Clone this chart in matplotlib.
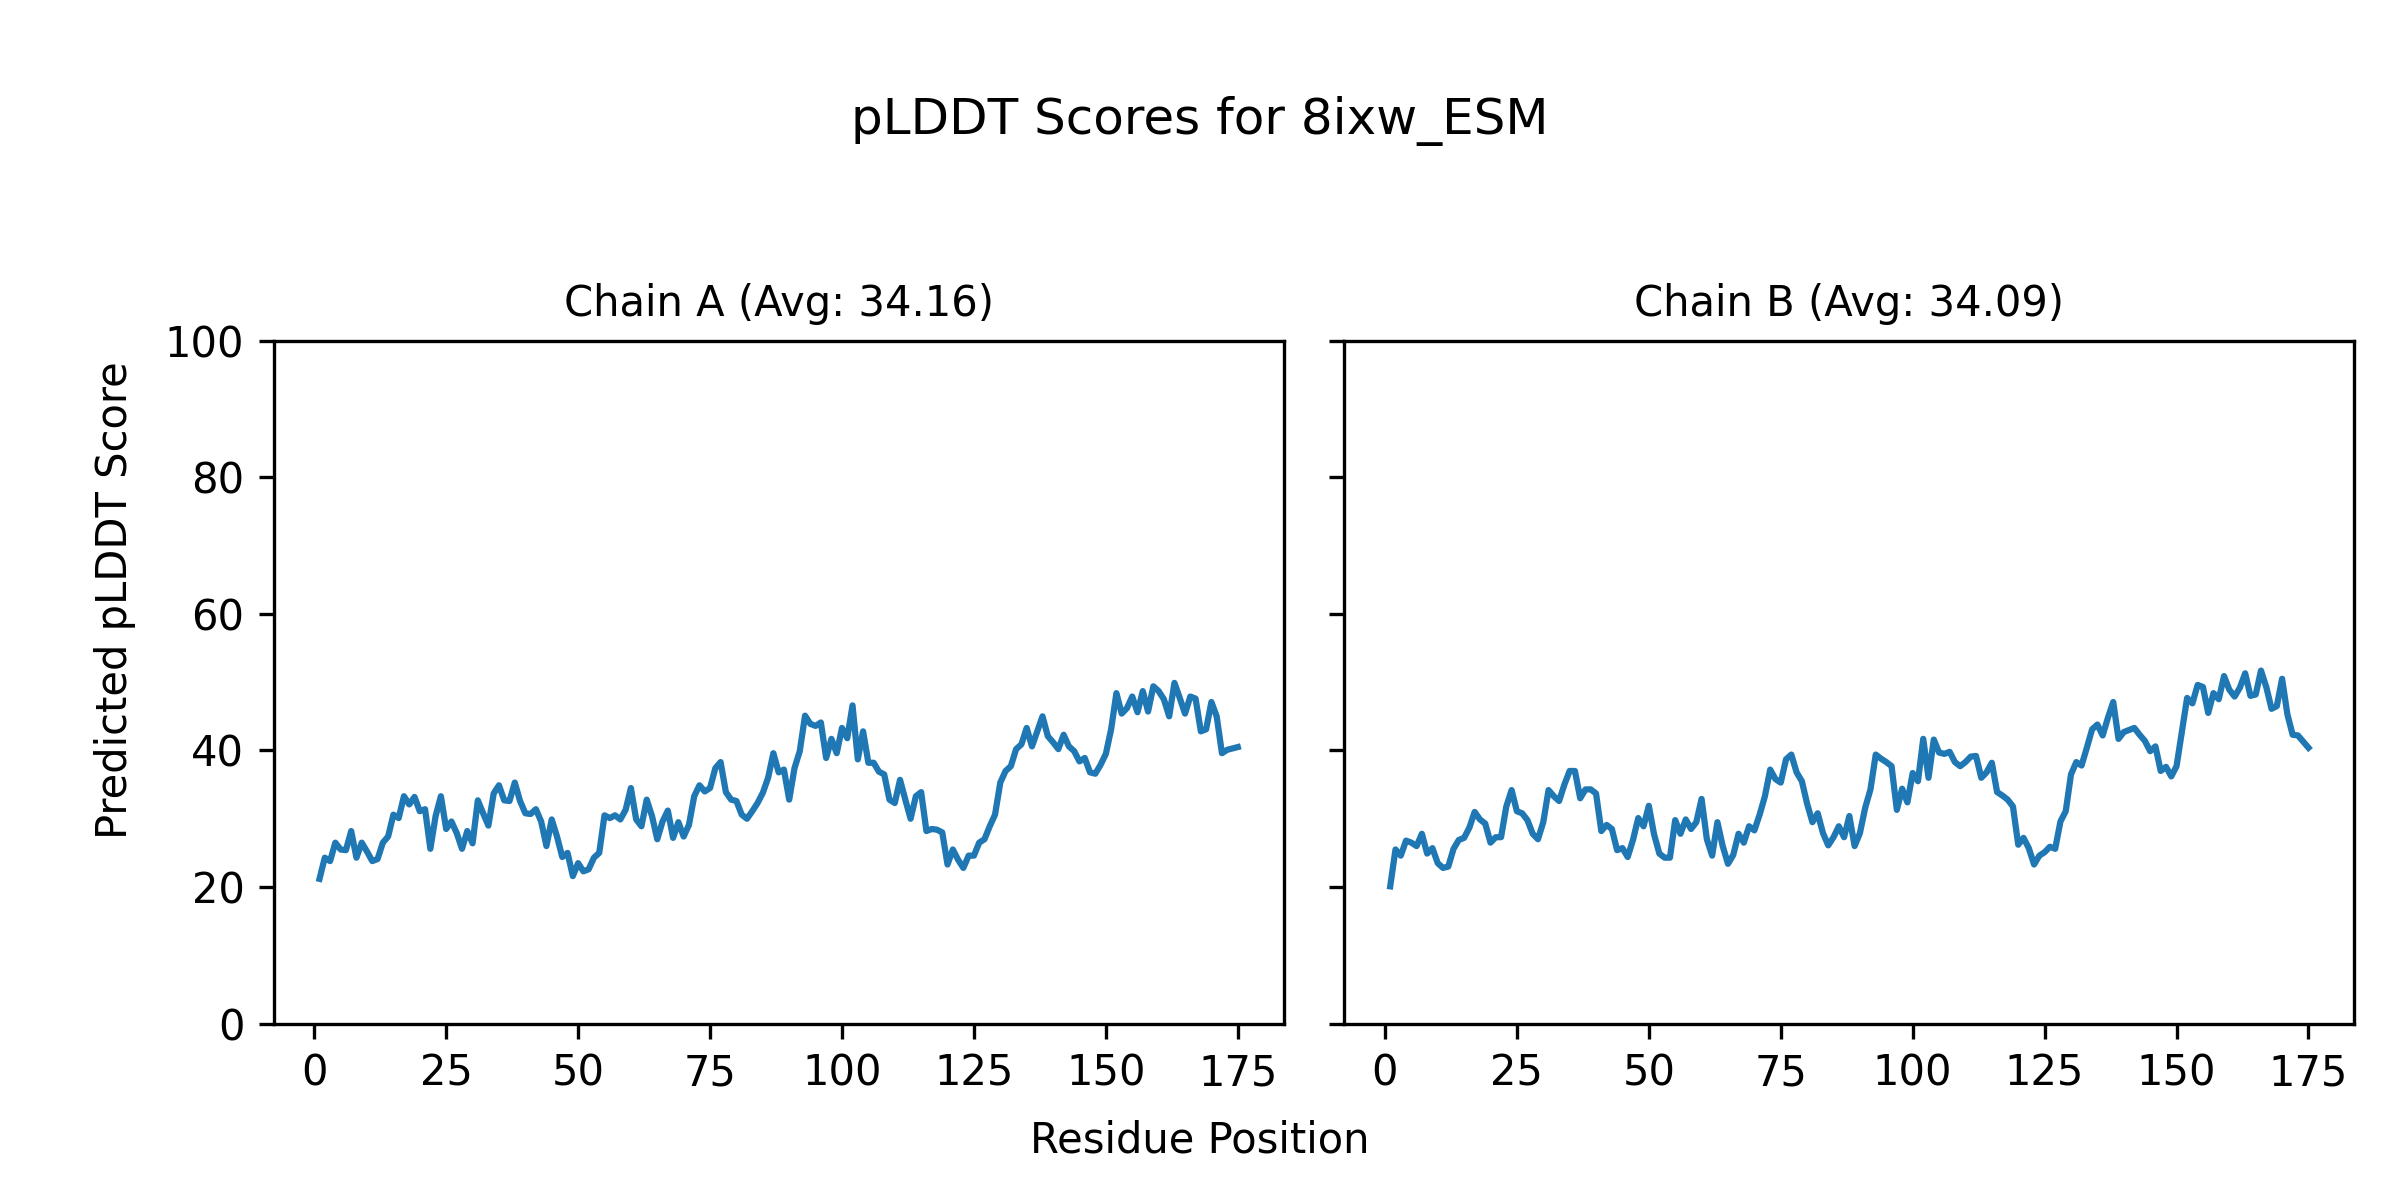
import numpy as np
import matplotlib
matplotlib.use('Agg')
import matplotlib.pyplot as plt

# pLDDT per residue
chain_a = [21.2, 24.3, 23.8, 26.5, 25.5, 25.4, 28.2, 24.3, 26.5, 25.2,
           23.8, 24.1, 26.5, 27.4, 30.6, 30.1, 33.3, 32.1, 33.2, 31.1,
           31.4, 25.6, 30.4, 33.3, 28.5, 29.6, 27.9, 25.6, 28.2, 26.4,
           32.7, 30.8, 29.0, 33.7, 34.9, 32.7, 32.6, 35.3, 32.6, 30.8,
           30.7, 31.4, 29.6, 26.0, 29.9, 27.4, 24.4, 25.0, 21.6, 23.5,
           22.3, 22.6, 24.3, 25.0, 30.5, 30.1, 30.5, 29.9, 31.3, 34.5,
           29.9, 28.9, 32.8, 30.4, 27.0, 29.6, 31.2, 27.2, 29.5, 27.4,
           29.1, 33.3, 34.9, 34.0, 34.5, 37.4, 38.3, 33.9, 32.8, 32.6,
           30.6, 30.0, 31.1, 32.3, 33.8, 36.0, 39.6, 36.8, 37.2, 32.8,
           37.4, 39.9, 45.1, 43.9, 43.6, 44.1, 38.9, 41.7, 39.6, 43.3,
           41.8, 46.6, 38.7, 42.8, 38.2, 38.2, 36.9, 36.5, 32.8, 32.3,
           35.7, 32.8, 30.0, 33.3, 33.9, 28.2, 28.5, 28.4, 28.0, 23.3,
           25.5, 24.0, 22.8, 24.6, 24.6, 26.5, 27.0, 28.9, 30.6, 35.3,
           37.0, 37.7, 40.2, 40.9, 43.3, 40.6, 42.8, 45.0, 42.1, 41.2,
           40.2, 42.3, 40.6, 39.9, 38.4, 38.9, 36.8, 36.6, 37.9, 39.5,
           43.1, 48.4, 45.4, 46.2, 47.9, 45.6, 48.7, 45.7, 49.4, 48.7,
           47.5, 45.0, 49.9, 47.7, 45.4, 47.9, 47.6, 42.8, 43.1, 47.1,
           45.0, 39.6, 40.1, 40.3, 40.5]

chain_b = [20.1, 25.5, 24.6, 26.8, 26.5, 26.0, 27.8, 24.9, 25.7, 23.5,
           22.8, 23.0, 25.6, 26.9, 27.2, 28.7, 31.0, 29.9, 29.3, 26.5,
           27.3, 27.3, 31.8, 34.2, 31.1, 30.8, 29.8, 27.8, 27.0, 29.5,
           34.2, 33.3, 32.6, 35.0, 37.0, 37.0, 33.0, 34.3, 34.3, 33.7,
           28.2, 29.1, 28.5, 25.4, 25.7, 24.4, 26.9, 30.1, 28.9, 31.9,
           27.7, 24.9, 24.3, 24.3, 29.8, 27.8, 29.9, 28.5, 29.5, 32.9,
           27.0, 24.6, 29.5, 26.0, 23.4, 24.7, 27.8, 26.5, 28.9, 28.3,
           30.6, 33.3, 37.2, 35.8, 35.3, 38.7, 39.4, 36.8, 35.5, 32.2,
           29.5, 30.8, 27.9, 26.1, 27.3, 28.9, 27.3, 30.4, 26.0, 27.9,
           31.6, 34.3, 39.4, 38.8, 38.3, 37.7, 31.3, 34.4, 32.4, 36.7,
           35.5, 41.7, 36.0, 41.6, 39.7, 39.5, 39.8, 38.3, 37.7, 38.3,
           39.1, 39.2, 36.0, 36.8, 38.2, 33.9, 33.4, 32.8, 31.8, 26.2,
           27.2, 25.7, 23.3, 24.6, 25.1, 25.9, 25.6, 29.6, 31.1, 36.5,
           38.3, 37.8, 40.4, 43.1, 43.8, 42.2, 44.8, 47.1, 41.7, 42.7,
           43.0, 43.3, 42.3, 41.4, 39.9, 40.6, 37.0, 37.6, 36.2, 37.7,
           42.7, 47.7, 46.9, 49.6, 49.3, 45.5, 48.4, 47.5, 50.9, 48.9,
           47.9, 49.2, 51.3, 48.0, 48.2, 51.7, 49.3, 46.1, 46.5, 50.5,
           45.3, 42.3, 42.2, 41.3, 40.4]

chains = ['A', 'B']
averages = [34.16, 34.09]
model_name = '8ixw_ESM'

fig, axes = plt.subplots(1, 2, figsize=(8, 4), dpi=300, sharey=True)
fig.subplots_adjust(left=0.114, right=0.981, bottom=0.147, top=0.716, wspace=0.06)

for ax, chain, scores, avg in zip(axes, chains, [chain_a, chain_b], averages):
    res = np.arange(1, len(scores) + 1)
    ax.plot(res, scores, color='#1f77b4', linewidth=1.5)
    ax.set_title('Chain %s (Avg: %.2f)' % (chain, avg), fontsize=10)
    ax.set_ylim(0, 100)
    ax.set_xticks([0, 25, 50, 75, 100, 125, 150, 175])

fig.supylabel('Predicted pLDDT Score', fontsize=10, x=0.039)
fig.supxlabel('Residue Position', fontsize=10, y=0.032)
fig.suptitle('pLDDT Scores for %s' % model_name, fontsize=12, y=0.92)

fig.savefig('out.png', dpi=300)
